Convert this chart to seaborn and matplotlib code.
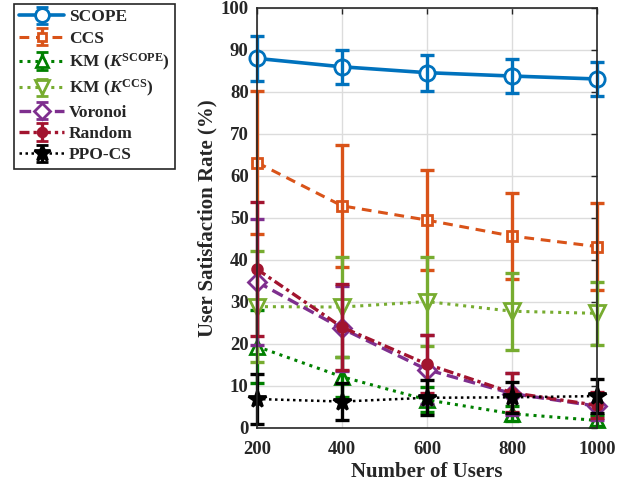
import numpy as np
import pandas as pd
import matplotlib
matplotlib.use("Agg")
import matplotlib.pyplot as plt
import seaborn as sns

# Number of users on the x axis
users = [200, 400, 600, 800, 1000]

# Mean user satisfaction rate (%) and standard deviation for each method
scope_mean = [88.0, 86.0, 84.6, 83.8, 83.1]
scope_std = [5.3, 4.0, 4.3, 4.1, 4.1]

ccs_mean = [63.2, 52.9, 49.5, 45.7, 43.2]
ccs_std = [17.0, 14.6, 11.9, 10.3, 10.3]

km_scope_mean = [19.4, 12.2, 6.7, 3.4, 1.8]
km_scope_std = [8.8, 4.8, 3.0, 1.8, 1.4]

km_ccs_mean = [28.9, 28.8, 30.1, 27.8, 27.3]
km_ccs_std = [13.3, 11.8, 10.6, 9.2, 7.5]

voronoi_mean = [34.8, 23.7, 13.9, 8.2, 5.2]
voronoi_std = [15.0, 10.2, 8.2, 5.0, 3.2]

random_mean = [37.8, 24.0, 15.2, 8.4, 5.4]
random_std = [16.0, 10.3, 6.9, 4.6, 3.1]

ppo_mean = [6.9, 6.3, 7.2, 7.3, 7.6]
ppo_std = [6.0, 4.3, 4.2, 3.7, 4.0]

labels = ["SCOPE", "CCS", r"KM ($K^{\mathrm{SCOPE}}$)", r"KM ($K^{\mathrm{CCS}}$)",
          "Voronoi", "Random", "PPO-CS"]
means = [scope_mean, ccs_mean, km_scope_mean, km_ccs_mean, voronoi_mean, random_mean, ppo_mean]
stds = [scope_std, ccs_std, km_scope_std, km_ccs_std, voronoi_std, random_std, ppo_std]

colors = ["#0072BD", "#D95319", "#008000", "#77AC30", "#7E2F8E", "#A2142F", "#000000"]
markers = ["o", "s", "^", "v", "D", "o", "*"]
msizes = [11, 7, 10, 11, 9, 7, 13]
faces = ["white", "white", "white", "white", "white", None, None]
lstyles = ["-", (0, (3.2, 2.2)), (0, (1, 1.6)), (0, (1, 1.6)), (0, (3.5, 1.8)),
           (0, (3, 1.2, 1, 1.2)), (0, (1, 1.4))]
lwidths = [2.6, 2.2, 2.2, 2.2, 2.4, 2.4, 1.8]

sns.set_theme(style="whitegrid")
plt.rcParams["font.family"] = ["Liberation Serif", "DejaVu Serif"]
plt.rcParams["font.weight"] = "bold"
plt.rcParams["mathtext.fontset"] = "custom"
plt.rcParams["mathtext.rm"] = "Liberation Serif:bold"
plt.rcParams["mathtext.it"] = "Liberation Serif:italic:bold"
plt.rcParams["mathtext.bf"] = "Liberation Serif:bold"

fig = plt.figure(figsize=(6.38, 4.87), dpi=100)
ax = fig.add_axes([257 / 638, 1 - 428 / 487, 340 / 638, 420 / 487])

handles = []
for i, lab in enumerate(labels):
    df = pd.DataFrame({"users": users, "rate": means[i]})
    col = colors[i]
    mfc = faces[i] if faces[i] is not None else col
    sns.lineplot(data=df, x="users", y="rate", ax=ax, color=col,
                 linestyle=lstyles[i], linewidth=lwidths[i], marker=markers[i],
                 markersize=msizes[i], markerfacecolor=mfc, markeredgecolor=col,
                 markeredgewidth=2.0, legend=False, zorder=3 + i, clip_on=False)
    ax.errorbar(users, means[i], yerr=stds[i], fmt="none", ecolor=col,
                elinewidth=2.4, capsize=5, capthick=2.4, zorder=3 + i, clip_on=False)
    # proxy artist for the legend entry
    h = ax.errorbar([np.nan], [np.nan], yerr=[1], color=col, linestyle=lstyles[i],
                    linewidth=lwidths[i], marker=markers[i], markersize=msizes[i] * 0.9,
                    markerfacecolor=mfc, markeredgecolor=col, markeredgewidth=2.0,
                    elinewidth=2.4, capsize=4, capthick=2.4, label=lab)
    handles.append(h)

ax.set_xlim(200, 1000)
ax.set_ylim(0, 100)
ax.set_xticks(users)
ax.set_yticks(np.arange(0, 101, 10))
ax.set_xlabel("Number of Users", fontsize=15, fontweight="bold", labelpad=3)
ax.set_ylabel("User Satisfaction Rate (%)", fontsize=15, fontweight="bold", labelpad=2)
ax.tick_params(axis="both", direction="in", length=4, width=1, color="#262626",
               labelsize=13.5, labelcolor="#262626", top=True, right=True)
ax.tick_params(axis="y", pad=6)
ax.tick_params(axis="x", pad=9)
for lbl in ax.get_xticklabels() + ax.get_yticklabels():
    lbl.set_fontweight("bold")
ax.grid(True, color="#DCDCDC", linewidth=1.0)
ax.set_facecolor("white")
for sp in ax.spines.values():
    sp.set_color("#262626")
    sp.set_linewidth(1.2)
    sp.set_visible(True)
    sp.set_zorder(20)

leg = ax.legend(handles=handles, labels=labels, loc="upper left",
                bbox_to_anchor=(14 / 638, 1 - 4 / 487), bbox_transform=fig.transFigure,
                frameon=True, fancybox=False, edgecolor="#262626", framealpha=1,
                fontsize=12.5, handlelength=2.6, handletextpad=0.25, labelspacing=0.3,
                borderpad=0.3, borderaxespad=0)
leg.get_frame().set_linewidth(1.2)
for t in leg.get_texts():
    t.set_fontweight("bold")

fig.savefig("out.png", dpi=100, facecolor="white")
